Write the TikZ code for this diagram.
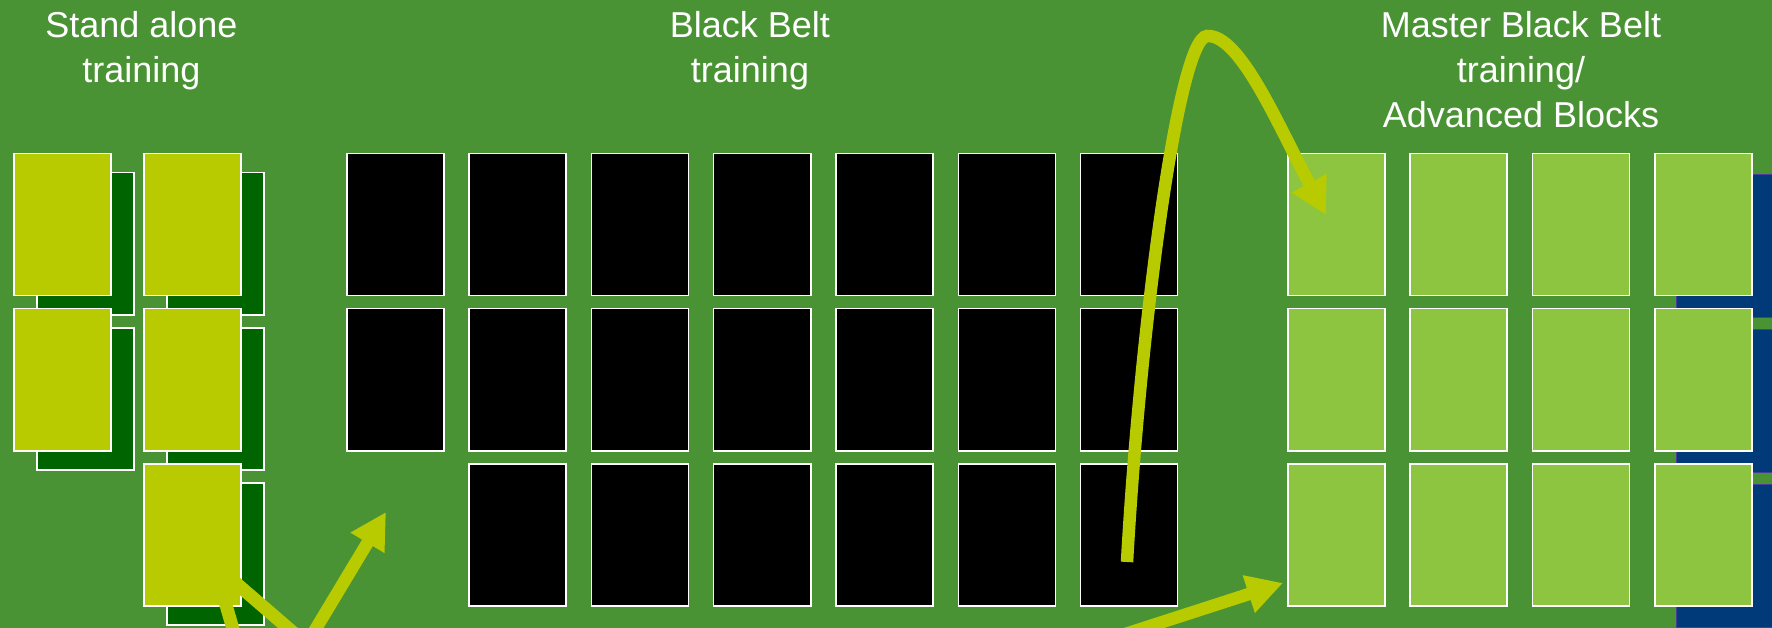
\documentclass[tikz,border=0pt]{standalone}
\usepackage{fontspec}
\setmainfont{Liberation Sans}
\usetikzlibrary{arrows.meta}
\definecolor{bg}{HTML}{4A9334}
\definecolor{lime}{HTML}{B8CA00}
\definecolor{dkgreen}{HTML}{006400}
\definecolor{mbb}{HTML}{8DC540}
\definecolor{navy}{HTML}{003A78}
\definecolor{navyedge}{HTML}{4A3C9C}
\begin{document}
\begin{tikzpicture}[x=1pt,y=-1pt,
  box/.style={draw=white, line width=1.5pt, minimum width=97pt, minimum height=142pt, inner sep=0pt, anchor=north west},
  shadowbox/.style={box, fill=dkgreen},
  limebox/.style={box, fill=lime},
  blackbox/.style={box, fill=black},
  mbbbox/.style={box, fill=mbb},
  navybox/.style={draw=navyedge, line width=1pt, fill=navy, minimum width=97pt, minimum height=143pt, inner sep=0pt, anchor=north west},
  lbl/.style={anchor=north, align=center, text=white, inner sep=0pt, font=\fontsize{36}{45}\selectfont},
  arr/.style={draw=lime, line width=12.5pt, -{Triangle[length=36pt,width=37pt]}},
  tail/.style={draw=lime, line width=13pt}]
\clip (0,0) rectangle (1772,628);
\fill[bg] (0,0) rectangle (1772,628);
% labels
\node[lbl] (t1) at (141.5,11) {Stand alone\\training};
\node[lbl] (t2) at (750,11) {Black Belt\\training};
\node[lbl] (t3) at (1521,11) {Master Black Belt\\training/\\Advanced Blocks};
% stand alone shadows
\node[shadowbox] (sd11) at (36,172) {};
\node[shadowbox] (sd12) at (36,327) {};
\node[shadowbox] (sd21) at (166,172) {};
\node[shadowbox] (sd22) at (166,327) {};
\node[shadowbox] (sd23) at (166,482) {};
% stand alone boxes
\node[limebox] (sa11) at (13,153) {};
\node[limebox] (sa12) at (13,308) {};
\node[limebox] (sa21) at (143,153) {};
\node[limebox] (sa22) at (143,308) {};
\node[limebox] (sa23) at (143,463) {};
% black belt boxes
\foreach \i in {1,...,7}{
  \pgfmathsetmacro{\bx}{346+(\i-1)*122.33}
  \node[blackbox] (bb\i-1) at (\bx,153) {};
  \node[blackbox] (bb\i-2) at (\bx,308) {};
  \ifnum\i>1
    \node[blackbox] (bb\i-3) at (\bx,463) {};
  \fi
}
% navy shadows
\node[navybox] (nv1) at (1676,174) {};
\node[navybox] (nv2) at (1676,329) {};
\node[navybox] (nv3) at (1676,484) {};
% master black belt boxes
\foreach \i in {1,...,4}{
  \pgfmathsetmacro{\mx}{1287+(\i-1)*122.33}
  \foreach \j/\y in {1/153,2/308,3/463}{
    \node[mbbbox] (mb\i-\j) at (\mx,\y) {};
  }
}
% arrows
\coordinate (l1s) at (200,552);
\coordinate (l1e) at (325,660);
\coordinate (l2s) at (210,550);
\coordinate (l2e) at (242,660);
\coordinate (a1s) at (297,660);
\coordinate (a1e) at (386,512);
\coordinate (a3s) at (1045,660);
\coordinate (a3e) at (1283,583);
\coordinate (c1) at (1127,562);
\coordinate (cp) at (1207,36);
\coordinate (c2) at (1326,215);
\draw[tail] (l1s) -- (l1e);
\draw[tail] (l2s) -- (l2e);
\draw[arr] (a1s) -- (a1e);
\draw[arr] (a3s) -- (a3e);
\draw[arr] (c1) .. controls (1140,330) and (1178,38) .. (cp) .. controls (1240,34) and (1278,125) .. (c2);
\end{tikzpicture}
\end{document}
